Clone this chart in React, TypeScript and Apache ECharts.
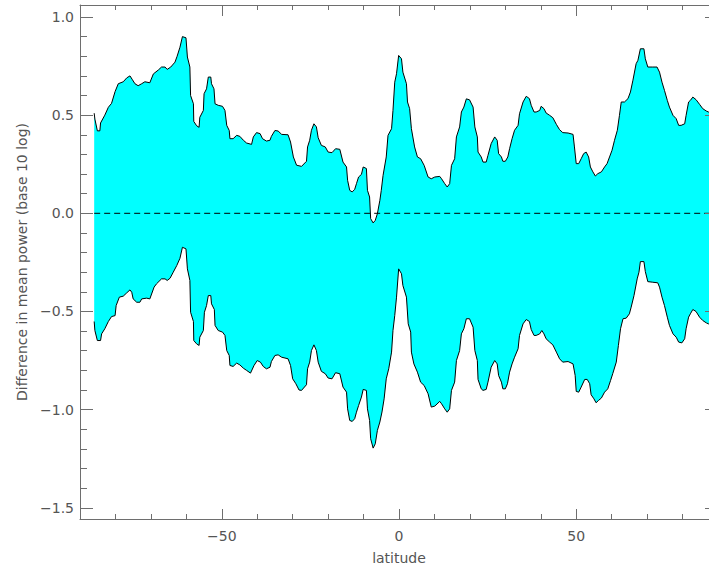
import React, { useEffect, useRef } from "react";
import * as echarts from "echarts";

// ---- data ----
const latUpper = [
  -86.0, -85.8, -85.1, -84.4, -84.2, -83.0, -82.0, -81.1, -80.1, -79.2, -77.8, -76.8, -75.9, -75.2, -74.5,
  -73.6, -72.6, -71.7, -70.3, -69.3, -67.9, -67.0, -66.0, -65.4, -64.4, -63.2, -62.6, -61.8, -61.1, -60.1,
  -59.7, -59.0, -58.8, -58.0, -57.9, -57.1, -56.4, -56.2, -55.2, -55.0, -54.3, -53.8, -53.1, -52.9, -52.2,
  -51.9, -51.0, -49.8, -49.1, -48.6, -47.9, -47.7, -46.8, -45.8, -44.9, -43.9, -43.0, -41.6, -41.1, -40.2,
  -39.2, -38.5, -37.4, -36.4, -36.0, -35.0, -34.1, -33.1, -31.3, -30.6, -29.8, -28.9, -27.5, -26.1, -25.8,
  -25.2, -24.7, -24.0, -23.3, -22.8, -21.9, -20.8, -20.0, -18.9, -17.9, -16.7, -15.8, -14.8, -14.5, -13.9,
  -13.2, -12.5, -12.0, -11.4, -10.6, -10.1, -9.2, -8.9, -8.3, -8.0, -7.3, -6.7, -6.1, -5.4, -5.0,
  -4.5, -3.6, -3.1, -2.1, -1.7, -1.2, -0.7, -0.1, 0.7, 1.1, 2.1, 2.4, 3.0, 3.5, 4.4,
  5.2, 6.1, 7.1, 8.2, 9.1, 10.1, 11.5, 12.0, 12.9, 13.6, 14.3, 14.8, 15.7, 16.2, 17.1,
  17.6, 18.3, 19.0, 19.9, 20.9, 21.4, 22.1, 22.3, 23.2, 23.7, 24.6, 25.1, 26.0, 27.0, 27.7,
  28.1, 28.9, 29.3, 30.0, 30.7, 31.2, 31.9, 32.6, 33.6, 34.0, 35.0, 35.9, 36.8, 37.3, 38.1,
  38.7, 39.7, 40.1, 40.9, 41.5, 42.5, 43.4, 44.4, 45.3, 46.2, 47.7, 49.1, 49.5, 50.0, 50.7,
  51.4, 52.1, 52.8, 53.5, 54.0, 54.7, 55.4, 56.1, 57.1, 58.0, 58.7, 59.4, 60.1, 60.8, 61.6,
  62.2, 62.7, 63.6, 64.6, 65.3, 66.0, 66.9, 67.4, 68.1, 69.1, 69.5, 70.2, 71.6, 72.8, 73.5,
  74.2, 74.9, 75.7, 76.3, 77.3, 78.2, 78.9, 79.6, 80.6, 81.0, 81.7, 82.2, 82.9, 83.8, 84.8,
  85.7, 86.7, 87.3, 88.0,
];
const upperValues = [
  0.51, 0.48, 0.42, 0.42, 0.46, 0.5, 0.54, 0.56, 0.62, 0.66, 0.67, 0.69, 0.7, 0.68, 0.66,
  0.65, 0.66, 0.67, 0.665, 0.71, 0.73, 0.745, 0.745, 0.733, 0.745, 0.77, 0.8, 0.846, 0.9, 0.894,
  0.796, 0.745, 0.6, 0.558, 0.468, 0.446, 0.438, 0.489, 0.524, 0.609, 0.634, 0.694, 0.694, 0.66, 0.634,
  0.558, 0.55, 0.545, 0.524, 0.448, 0.422, 0.38, 0.38, 0.397, 0.392, 0.372, 0.358, 0.351, 0.389, 0.411,
  0.406, 0.38, 0.368, 0.372, 0.392, 0.422, 0.419, 0.402, 0.4, 0.363, 0.287, 0.245, 0.239, 0.265, 0.338,
  0.372, 0.423, 0.456, 0.44, 0.385, 0.346, 0.338, 0.312, 0.309, 0.329, 0.326, 0.261, 0.236, 0.168, 0.117,
  0.109, 0.122, 0.151, 0.185, 0.198, 0.236, 0.228, 0.117, 0.083, -0.027, -0.049, -0.036, -0.002, 0.066, 0.117,
  0.193, 0.287, 0.397, 0.431, 0.524, 0.668, 0.711, 0.804, 0.787, 0.719, 0.66, 0.567, 0.533, 0.431, 0.338,
  0.287, 0.278, 0.244, 0.185, 0.176, 0.185, 0.188, 0.176, 0.151, 0.134, 0.151, 0.244, 0.278, 0.389, 0.44,
  0.516, 0.541, 0.583, 0.578, 0.541, 0.44, 0.389, 0.312, 0.287, 0.261, 0.261, 0.295, 0.355, 0.389, 0.372,
  0.304, 0.287, 0.265, 0.265, 0.287, 0.329, 0.38, 0.423, 0.448, 0.507, 0.567, 0.596, 0.584, 0.55, 0.516,
  0.516, 0.524, 0.545, 0.533, 0.511, 0.499, 0.487, 0.453, 0.426, 0.411, 0.409, 0.402, 0.338, 0.253, 0.253,
  0.278, 0.304, 0.312, 0.287, 0.236, 0.211, 0.19, 0.202, 0.211, 0.236, 0.253, 0.287, 0.321, 0.372, 0.423,
  0.499, 0.567, 0.567, 0.584, 0.618, 0.678, 0.762, 0.779, 0.838, 0.838, 0.787, 0.745, 0.745, 0.745, 0.719,
  0.668, 0.626, 0.575, 0.541, 0.499, 0.482, 0.448, 0.448, 0.456, 0.499, 0.567, 0.575, 0.592, 0.579, 0.555,
  0.533, 0.521, 0.516, 0.512,
];

const latLower = [
  -86.0, -85.8, -85.1, -84.2, -83.9, -83.0, -82.0, -81.1, -80.1, -79.8, -78.9, -77.8, -76.8, -75.9, -75.4,
  -75.0, -74.0, -73.1, -72.6, -71.2, -70.3, -69.1, -68.4, -67.0, -66.0, -65.4, -64.6, -63.7, -62.7, -61.8,
  -61.1, -60.1, -59.7, -59.0, -58.8, -58.0, -57.9, -57.1, -56.4, -56.2, -55.2, -54.9, -54.3, -53.8, -53.1,
  -52.9, -52.1, -51.9, -51.0, -49.8, -49.1, -48.6, -47.9, -47.7, -46.8, -45.8, -44.9, -43.9, -43.0, -41.9,
  -40.9, -40.0, -39.1, -38.3, -37.4, -36.4, -36.0, -35.0, -34.1, -33.1, -31.3, -30.6, -30.0, -29.1, -28.2,
  -27.5, -26.1, -25.8, -25.2, -24.7, -24.0, -23.3, -22.8, -21.9, -20.8, -20.0, -18.9, -17.9, -16.7, -15.8,
  -14.8, -14.5, -13.9, -13.2, -12.5, -12.0, -11.4, -10.6, -10.1, -9.2, -8.9, -8.3, -8.0, -7.3, -6.7,
  -6.1, -5.4, -4.8, -4.2, -3.6, -2.9, -2.1, -1.7, -1.2, -0.7, -0.1, 0.7, 1.1, 2.1, 2.6,
  3.3, 3.5, 4.2, 5.2, 6.1, 7.1, 8.2, 9.1, 10.1, 11.5, 12.0, 12.9, 13.6, 14.3, 14.8,
  15.7, 16.2, 17.1, 17.6, 18.3, 19.0, 19.9, 20.9, 21.4, 22.1, 22.3, 23.2, 23.7, 24.6, 25.1,
  26.0, 27.0, 27.7, 28.1, 28.9, 29.3, 30.0, 30.6, 31.2, 31.9, 32.6, 33.6, 34.0, 35.0, 35.9,
  36.8, 37.3, 38.1, 38.7, 39.7, 40.3, 40.9, 41.5, 42.5, 43.4, 44.4, 45.3, 46.2, 47.7, 49.1,
  49.7, 50.0, 50.7, 51.4, 52.4, 53.1, 53.8, 54.2, 55.0, 55.6, 56.3, 57.1, 58.0, 58.9, 59.7,
  60.3, 61.3, 61.9, 62.5, 63.2, 64.1, 65.0, 65.5, 66.3, 67.2, 67.7, 68.1, 69.1, 69.5, 70.2,
  71.6, 73.0, 73.5, 74.2, 74.9, 75.7, 76.3, 77.3, 78.2, 78.9, 79.8, 80.6, 81.0, 81.7, 82.2,
  82.9, 83.8, 84.8, 85.7, 86.7, 87.3, 88.0,
];
const lowerValues = [
  -0.551, -0.597, -0.648, -0.648, -0.614, -0.588, -0.551, -0.526, -0.521, -0.47, -0.427, -0.422, -0.405, -0.39, -0.402,
  -0.436, -0.453, -0.453, -0.436, -0.432, -0.436, -0.376, -0.359, -0.334, -0.334, -0.342, -0.331, -0.3, -0.266, -0.229,
  -0.173, -0.181, -0.283, -0.342, -0.504, -0.551, -0.648, -0.665, -0.673, -0.631, -0.597, -0.504, -0.47, -0.419, -0.419,
  -0.461, -0.49, -0.571, -0.597, -0.605, -0.622, -0.699, -0.724, -0.775, -0.78, -0.763, -0.772, -0.789, -0.8, -0.814,
  -0.775, -0.75, -0.758, -0.78, -0.792, -0.784, -0.755, -0.724, -0.721, -0.733, -0.741, -0.775, -0.843, -0.868, -0.9,
  -0.902, -0.873, -0.792, -0.758, -0.699, -0.67, -0.699, -0.758, -0.805, -0.817, -0.839, -0.843, -0.812, -0.817, -0.885,
  -0.911, -0.996, -1.055, -1.06, -1.046, -1.013, -0.979, -0.936, -0.897, -0.902, -0.996, -1.055, -1.148, -1.196, -1.174,
  -1.106, -1.063, -1.012, -0.945, -0.843, -0.792, -0.707, -0.597, -0.521, -0.427, -0.283, -0.308, -0.368, -0.427, -0.563,
  -0.605, -0.707, -0.767, -0.809, -0.86, -0.877, -0.919, -0.987, -0.982, -0.958, -0.97, -0.996, -1.013, -0.996, -0.902,
  -0.86, -0.75, -0.699, -0.614, -0.588, -0.537, -0.537, -0.58, -0.699, -0.75, -0.846, -0.894, -0.902, -0.897, -0.86,
  -0.784, -0.75, -0.767, -0.826, -0.86, -0.894, -0.894, -0.868, -0.809, -0.767, -0.733, -0.69, -0.622, -0.563, -0.541,
  -0.551, -0.592, -0.622, -0.622, -0.614, -0.597, -0.614, -0.639, -0.656, -0.67, -0.707, -0.741, -0.758, -0.755, -0.767,
  -0.826, -0.907, -0.911, -0.885, -0.846, -0.846, -0.868, -0.924, -0.945, -0.965, -0.953, -0.941, -0.911, -0.894, -0.851,
  -0.817, -0.758, -0.673, -0.588, -0.537, -0.534, -0.512, -0.478, -0.419, -0.334, -0.3, -0.246, -0.246, -0.297, -0.348,
  -0.351, -0.354, -0.376, -0.427, -0.47, -0.529, -0.571, -0.614, -0.631, -0.656, -0.66, -0.639, -0.588, -0.529, -0.512,
  -0.49, -0.5, -0.529, -0.546, -0.558, -0.563, -0.567,
];

const xMajorTicks = [-50, 0, 50];
const xMinorTicks = [-80, -70, -60, -40, -30, -20, -10, 10, 20, 30, 40, 60, 70, 80];
const yMajorTicks = [-1.5, -1.0, -0.5, 0.0, 0.5, 1.0];
const yMinorTicks = [
  -1.4, -1.3, -1.2, -1.1, -0.9, -0.8, -0.7, -0.6, -0.4, -0.3, -0.2, -0.1,
  0.1, 0.2, 0.3, 0.4, 0.6, 0.7, 0.8, 0.9,
];

const X_MIN = -90;
const X_MAX = 90;
const Y_MIN = -1.557;
const Y_MAX = 1.061;

const AXIS_COLOR = "#6e6e6e";
const TEXT_COLOR = "#555555";
const FONT = "DejaVu Sans";

const minus = (s: string) => s.replace("-", "\u2212");

function baseAxis(min: number, max: number, position: string, showLine: boolean) {
  return {
    type: "value",
    min,
    max,
    position,
    z: 10,
    axisLine: { show: showLine, onZero: false, lineStyle: { color: AXIS_COLOR, width: 1 } },
    splitLine: { show: false },
    axisLabel: { show: false },
    axisTick: { show: false },
  };
}

function tickAxis(
  min: number,
  max: number,
  position: string,
  showLine: boolean,
  values: number[],
  len: number
) {
  const a: any = baseAxis(min, max, position, showLine);
  a.axisTick = {
    show: true,
    inside: true,
    length: len,
    customValues: values,
    lineStyle: { color: AXIS_COLOR, width: 1 },
  };
  return a;
}

export default function App() {
  const ref = useRef<HTMLDivElement>(null);

  useEffect(() => {
    if (!ref.current) return;
    const chart = echarts.init(ref.current, null, { renderer: "svg" });

    const upperData = latUpper.map((x, i) => [x, upperValues[i]]);
    const lowerData = latLower.map((x, i) => [x, lowerValues[i]]);
    const zeroData = [
      [latUpper[0], 0],
      [latUpper[latUpper.length - 1], 0],
    ];

    const xBottom: any = tickAxis(X_MIN, X_MAX, "bottom", true, xMajorTicks, 10);
    xBottom.axisLabel = {
      show: true,
      customValues: xMajorTicks,
      margin: 10,
      color: TEXT_COLOR,
      fontFamily: FONT,
      fontSize: 14,
      formatter: (v: number) => minus(String(v)),
    };
    xBottom.name = "latitude";
    xBottom.nameLocation = "middle";
    xBottom.nameGap = 32;
    xBottom.nameTextStyle = { color: TEXT_COLOR, fontFamily: FONT, fontSize: 14 };

    const yLeft: any = tickAxis(Y_MIN, Y_MAX, "left", true, yMajorTicks, 13);
    yLeft.axisLabel = {
      show: true,
      customValues: yMajorTicks,
      margin: 6,
      color: TEXT_COLOR,
      fontFamily: FONT,
      fontSize: 14,
      formatter: (v: number) => minus(v.toFixed(1)),
    };
    yLeft.name = "Difference in mean power (base 10 log)";
    yLeft.nameLocation = "middle";
    yLeft.nameGap = 51;
    yLeft.nameTextStyle = { color: TEXT_COLOR, fontFamily: FONT, fontSize: 14 };

    const option: any = {
      animation: false,
      backgroundColor: "#ffffff",
      textStyle: { fontFamily: FONT },
      grid: { left: 80, top: 5, right: 12, bottom: 52, containLabel: false },
      xAxis: [
        xBottom,
        tickAxis(X_MIN, X_MAX, "bottom", false, xMinorTicks, 5),
        tickAxis(X_MIN, X_MAX, "top", true, xMajorTicks, 11),
        tickAxis(X_MIN, X_MAX, "top", false, xMinorTicks, 5),
      ],
      yAxis: [
        yLeft,
        tickAxis(Y_MIN, Y_MAX, "left", false, yMinorTicks, 7),
        tickAxis(Y_MIN, Y_MAX, "right", true, yMajorTicks, 13),
        tickAxis(Y_MIN, Y_MAX, "right", false, yMinorTicks, 7),
      ],
      series: [
        {
          // cyan band between the lower and upper curves
          type: "custom",
          name: "band",
          xAxisIndex: 0,
          yAxisIndex: 0,
          data: [[0, 0]],
          silent: true,
          z: 1,
          renderItem: (_params: any, api: any) => {
            const pts: number[][] = [];
            for (const p of upperData) pts.push(api.coord(p));
            for (let i = lowerData.length - 1; i >= 0; i--) pts.push(api.coord(lowerData[i]));
            return {
              type: "polygon",
              shape: { points: pts },
              style: { fill: "#00ffff", stroke: "none" },
            };
          },
        },
        {
          type: "line",
          name: "upper",
          xAxisIndex: 0,
          yAxisIndex: 0,
          data: upperData,
          symbol: "none",
          silent: true,
          lineStyle: { color: "#000000", width: 1 },
          z: 3,
        },
        {
          type: "line",
          name: "lower",
          xAxisIndex: 0,
          yAxisIndex: 0,
          data: lowerData,
          symbol: "none",
          silent: true,
          lineStyle: { color: "#000000", width: 1 },
          z: 3,
        },
        {
          type: "line",
          name: "zero",
          xAxisIndex: 0,
          yAxisIndex: 0,
          data: zeroData,
          symbol: "none",
          silent: true,
          lineStyle: { color: "#000000", width: 1, type: [6, 4] },
          z: 4,
        },
      ],
    };

    chart.setOption(option);
    return () => chart.dispose();
  }, []);

  return (
    <div
      style={{
        position: "fixed",
        left: 0,
        top: 0,
        width: 709,
        height: 571,
        overflow: "hidden",
        background: "#fff",
      }}
    >
      <div ref={ref} style={{ width: 730, height: 571 }} />
    </div>
  );
}
